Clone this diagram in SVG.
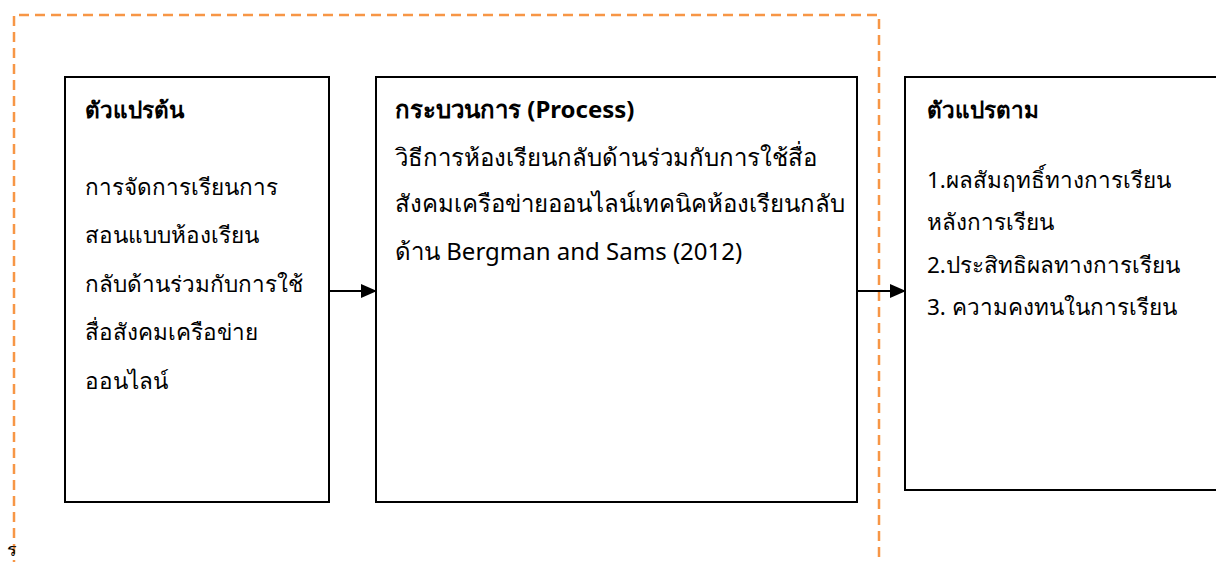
<svg xmlns="http://www.w3.org/2000/svg" width="1216" height="562" viewBox="0 0 1216 562">
<defs>
<style>
.box{fill:#fff;stroke:#000;stroke-width:2}
.frame{fill:none;stroke:#F79646;stroke-width:2.5;stroke-dasharray:10 6}
.t{font-family:"Noto Sans","DejaVu Sans",sans-serif;font-size:22.5px;fill:#000}
.b2{font-size:24px}
.h{font-weight:bold}
.conn{stroke:#000;stroke-width:2;fill:none}
</style>
<marker id="arr" markerWidth="16" markerHeight="14" refX="15" refY="7" orient="auto" markerUnits="userSpaceOnUse">
<path d="M0,0 L16,7 L0,14 Z" fill="#000"/>
</marker>
</defs>
<rect width="1216" height="562" fill="#fff"/>
<g id="frame">
<path class="frame" d="M14,570 V15 H879 V570"/>
</g>
<g id="node1">
<rect class="box" x="65" y="77" width="264" height="425"/>
<text class="t h" x="85" y="118">ตัวแปรต้น</text>
<text class="t" x="85" y="195">การจัดการเรียนการ</text>
<text class="t" x="85" y="243">สอนแบบห้องเรียน</text>
<text class="t" x="85" y="292">กลับด้านร่วมกับการใช้</text>
<text class="t" x="85" y="340">สื่อสังคมเครือข่าย</text>
<text class="t" x="85" y="389">ออนไลน์</text>
</g>
<g id="node2">
<rect class="box" x="376" y="77" width="481" height="425"/>
<text class="t b2 h" x="395" y="118">กระบวนการ (Process)</text>
<text class="t b2" x="395" y="166">วิธีการห้องเรียนกลับด้านร่วมกับการใช้สื่อ</text>
<text class="t b2" x="395" y="212">สังคมเครือข่ายออนไลน์เทคนิคห้องเรียนกลับ</text>
<text class="t b2" x="395" y="260">ด้าน Bergman and Sams (2012)</text>
</g>
<g id="node3">
<rect class="box" x="905" y="77" width="330" height="413"/>
<text class="t h" x="927" y="118">ตัวแปรตาม</text>
<text class="t" x="927" y="188">1.ผลสัมฤทธิ์ทางการเรียน</text>
<text class="t" x="927" y="230">หลังการเรียน</text>
<text class="t" x="927" y="273">2.ประสิทธิผลทางการเรียน</text>
<text class="t" x="927" y="315">3. ความคงทนในการเรียน</text>
</g>
<g id="connectors">
<line class="conn" x1="330" y1="291" x2="376" y2="291" marker-end="url(#arr)"/>
<line class="conn" x1="857" y1="291" x2="905" y2="291" marker-end="url(#arr)"/>
</g>
<text class="t" x="7" y="556" style="font-size:18px">ร</text>
</svg>
